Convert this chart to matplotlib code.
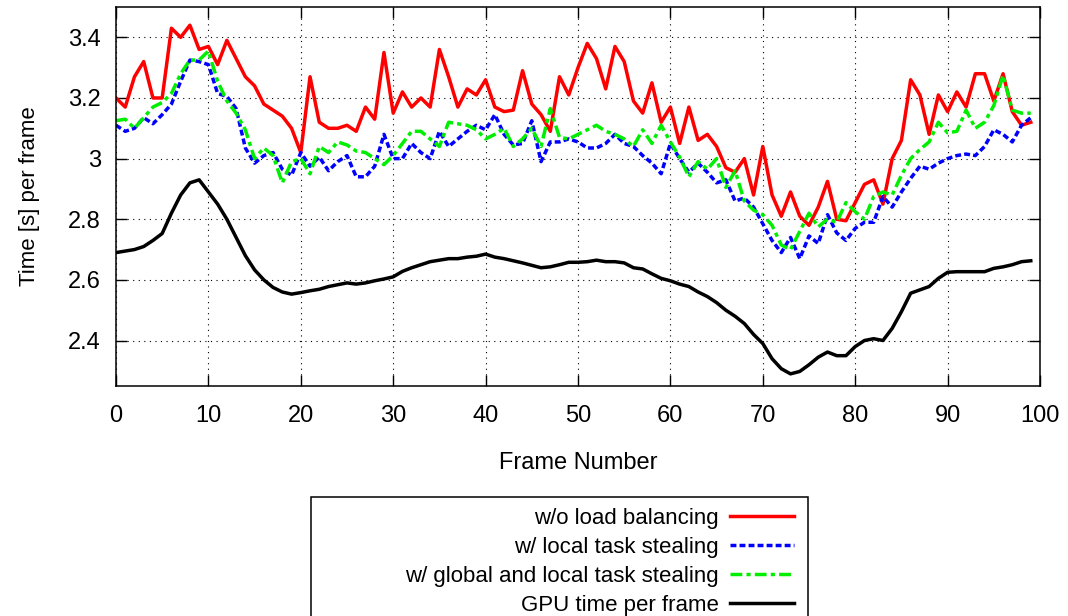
import matplotlib
matplotlib.use('Agg')
from matplotlib import pyplot as plt
from matplotlib.patches import Rectangle

plt.rcParams['font.family'] = ['Liberation Sans', 'DejaVu Sans']
plt.rcParams['font.size'] = 16

frames = list(range(100))

no_balancing = [3.20, 3.17, 3.27, 3.32, 3.20, 3.20, 3.43, 3.40, 3.44, 3.36,
                3.37, 3.31, 3.39, 3.33, 3.27, 3.24, 3.18, 3.16, 3.14, 3.10,
                3.02, 3.27, 3.12, 3.10, 3.10, 3.11, 3.09, 3.17, 3.13, 3.35,
                3.15, 3.22, 3.17, 3.20, 3.17, 3.36, 3.27, 3.17, 3.23, 3.21,
                3.26, 3.17, 3.155, 3.16, 3.29, 3.18, 3.145, 3.09, 3.27, 3.21,
                3.30, 3.38, 3.33, 3.23, 3.37, 3.32, 3.19, 3.15, 3.25, 3.12,
                3.17, 3.05, 3.17, 3.06, 3.08, 3.04, 2.97, 2.955, 3.00, 2.88,
                3.04, 2.88, 2.81, 2.89, 2.81, 2.78, 2.84, 2.925, 2.80, 2.795,
                2.855, 2.915, 2.93, 2.85, 3.00, 3.06, 3.26, 3.21, 3.08, 3.21,
                3.155, 3.22, 3.17, 3.28, 3.28, 3.19, 3.28, 3.155, 3.11, 3.12]

local_stealing = [3.11, 3.09, 3.10, 3.135, 3.115, 3.145, 3.18, 3.255, 3.325, 3.32,
                  3.31, 3.215, 3.205, 3.165, 3.035, 2.985, 3.01, 3.02, 2.965, 2.945,
                  3.02, 2.975, 3.005, 2.96, 2.99, 3.01, 2.94, 2.94, 2.975, 3.08,
                  3.00, 3.00, 3.05, 3.02, 3.00, 3.09, 3.04, 3.065, 3.09, 3.11,
                  3.095, 3.145, 3.08, 3.045, 3.05, 3.125, 2.99, 3.055, 3.055, 3.065,
                  3.055, 3.035, 3.035, 3.05, 3.08, 3.05, 3.04, 3.01, 2.985, 2.95,
                  3.05, 3.00, 2.955, 2.985, 2.955, 2.92, 2.93, 2.86, 2.87, 2.84,
                  2.785, 2.73, 2.69, 2.74, 2.67, 2.745, 2.72, 2.815, 2.755, 2.73,
                  2.77, 2.79, 2.79, 2.875, 2.84, 2.89, 2.935, 2.975, 2.965, 2.985,
                  3.00, 3.01, 3.015, 3.01, 3.04, 3.095, 3.08, 3.055, 3.11, 3.135]

global_stealing = [3.125, 3.13, 3.10, 3.135, 3.17, 3.185, 3.215, 3.28, 3.325, 3.325,
                   3.355, 3.255, 3.19, 3.15, 3.095, 3.00, 3.035, 3.01, 2.92, 2.99,
                   3.00, 2.95, 3.04, 3.02, 3.055, 3.045, 3.025, 3.02, 3.00, 2.98,
                   3.01, 3.05, 3.09, 3.09, 3.065, 3.04, 3.12, 3.115, 3.11, 3.095,
                   3.065, 3.08, 3.10, 3.04, 3.065, 3.10, 3.04, 3.165, 3.07, 3.065,
                   3.08, 3.095, 3.11, 3.09, 3.08, 3.065, 3.04, 3.095, 3.05, 3.11,
                   3.055, 3.005, 2.94, 2.99, 2.965, 3.00, 2.905, 2.96, 2.86, 2.83,
                   2.815, 2.78, 2.715, 2.70, 2.76, 2.82, 2.775, 2.80, 2.79, 2.855,
                   2.825, 2.80, 2.875, 2.89, 2.88, 2.945, 3.00, 3.03, 3.055, 3.12,
                   3.085, 3.09, 3.16, 3.10, 3.12, 3.175, 3.275, 3.16, 3.15, 3.15]

gpu_time = [2.69, 2.695, 2.70, 2.71, 2.73, 2.753, 2.82, 2.88, 2.92, 2.93,
            2.89, 2.85, 2.80, 2.74, 2.68, 2.633, 2.60, 2.575, 2.56, 2.553,
            2.558, 2.564, 2.569, 2.578, 2.584, 2.59, 2.586, 2.59, 2.597, 2.603,
            2.61, 2.628, 2.64, 2.65, 2.66, 2.665, 2.67, 2.67, 2.675, 2.678,
            2.685, 2.675, 2.67, 2.663, 2.656, 2.648, 2.64, 2.643, 2.65, 2.658,
            2.658, 2.66, 2.665, 2.66, 2.66, 2.656, 2.64, 2.636, 2.62, 2.605,
            2.597, 2.586, 2.578, 2.56, 2.545, 2.525, 2.50, 2.48, 2.456, 2.42,
            2.39, 2.34, 2.307, 2.29, 2.298, 2.32, 2.345, 2.362, 2.35, 2.35,
            2.38, 2.40, 2.406, 2.40, 2.44, 2.495, 2.556, 2.567, 2.578, 2.605,
            2.625, 2.627, 2.627, 2.627, 2.627, 2.638, 2.643, 2.65, 2.66, 2.663]

labels = ['w/o load balancing', 'w/ local task stealing',
          'w/ global and local task stealing', 'GPU time per frame']
x_ticks = list(range(0, 101, 10))
y_ticks = [2.4, 2.6, 2.8, 3.0, 3.2, 3.4]
y_tick_labels = ['2.4', '2.6', '2.8', '3', '3.2', '3.4']

fig = plt.figure(figsize=(10.68, 6.16), dpi=100)
ax = fig.add_axes([0.1086, 0.3734, 0.8652, 0.6152])

lw = 2.5
ax.plot(frames, no_balancing, color='#ff0000', linewidth=lw, label=labels[0])
ax.plot(frames, local_stealing, color='#0000ff', linewidth=lw,
        dashes=(1.7, 0.9), label=labels[1])
ax.plot(frames, global_stealing, color='#00ee00', linewidth=lw,
        dashes=(3.4, 1.2, 1.2, 1.2), label=labels[2])
ax.plot(frames, gpu_time, color='black', linewidth=lw, label=labels[3])

ax.set_xlim(0, 100)
ax.set_ylim(2.25, 3.5)
ax.set_xticks(x_ticks)
ax.set_yticks(y_ticks)
ax.set_yticklabels(y_tick_labels)
ax.tick_params(direction='in', length=8, width=1, top=True, right=True,
               labelsize=17)
ax.tick_params(axis='y', pad=11)
ax.tick_params(axis='x', pad=14)
ax.grid(True, color='black', linestyle=(0, (1, 4)), linewidth=0.8)
for s in ax.spines.values():
    s.set_linewidth(1.1)

ax.set_xlabel('Frame Number', fontsize=17, labelpad=18)
ax.set_ylabel('Time [s] per frame', fontsize=16, labelpad=20)

leg = fig.legend(loc='upper right', bbox_to_anchor=(0.752, 0.19),
                 markerfirst=False, frameon=False, fontsize=16,
                 handlelength=2.9, handletextpad=0.5, labelspacing=0.36,
                 borderaxespad=0)
fig.patches.append(Rectangle((0.291, -0.05), 0.466, 0.243,
                             transform=fig.transFigure, fill=False,
                             edgecolor='black', linewidth=1.1))

fig.savefig('out.png', dpi=100)
